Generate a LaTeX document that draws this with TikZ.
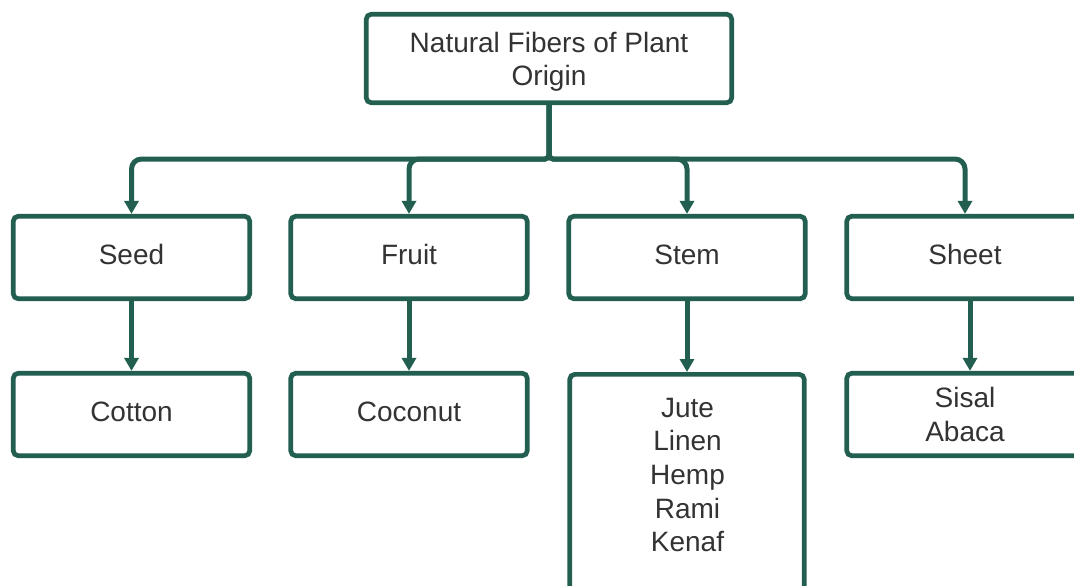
\documentclass[tikz,border=0pt]{standalone}
\usepackage{fontspec}
\setmainfont{Liberation Sans}
\usetikzlibrary{arrows.meta}
\definecolor{framegreen}{HTML}{235F50}
\definecolor{labelgrey}{HTML}{333333}
\tikzset{
  box/.style={draw=framegreen, line width=4.7pt, rounded corners=5pt, fill=white,
    inner sep=0pt, text=labelgrey, align=center,
    font=\fontsize{28}{33.5}\selectfont},
  wide/.style={box, minimum width=365.5pt, minimum height=88.5pt},
  cell/.style={box, minimum width=236.5pt, minimum height=82.5pt},
  oneline/.style={cell, text height=20pt, text depth=6pt},
  listtext/.style={text=labelgrey, align=center, inner sep=0pt,
    font=\fontsize{28}{33.5}\selectfont},
  link/.style={draw=framegreen, line width=5pt,
    -{Triangle[length=13pt,width=14pt]}}
}
\begin{document}
\begin{tikzpicture}[x=1pt, y=-1pt]
  \useasboundingbox (0,0) rectangle (1074,586);
  \clip (0,0) rectangle (1074,586);

  % root
  \node[wide] (root) at (549,58.5) {};
  \node[listtext] (roottext) at (549,62) {Natural Fibers of Plant\\Origin};

  % categories
  \node[oneline] (seed)  at (131.5,257.5) {Seed};
  \node[oneline] (fruit) at (409,257.5)   {Fruit};
  \node[oneline] (stem)  at (687,257.5)   {Stem};
  \node[oneline] (sheet) at (965,257.5)   {Sheet};

  % examples
  \node[oneline] (cotton)  at (131.5,414.5) {Cotton};
  \node[oneline] (coconut) at (409,414.5)   {Coconut};
  \node[box, minimum width=234.5pt, minimum height=245pt, anchor=north]
       (stemlist) at (687,372) {};
  \node[listtext] (stemtext) at (687.5,475) {Jute\\Linen\\Hemp\\Rami\\Kenaf};
  \node[cell] (sisal) at (965,414.5) {Sisal\\Abaca};

  % branching from the root
  \coordinate (fork) at (549,159);
  \foreach \c in {seed,fruit,stem,sheet}
    \draw[link, rounded corners=4pt] (root.south) -- (fork)
         [rounded corners=10pt] -| (\c.north);

  % category to example
  \draw[link] (seed.south)  -- (cotton.north);
  \draw[link] (fruit.south) -- (coconut.north);
  \draw[link] (stem.south)  -- (stemlist.north);
  \draw[link] ([xshift=5pt]sheet.south) -- ([xshift=5pt]sisal.north);
\end{tikzpicture}
\end{document}
